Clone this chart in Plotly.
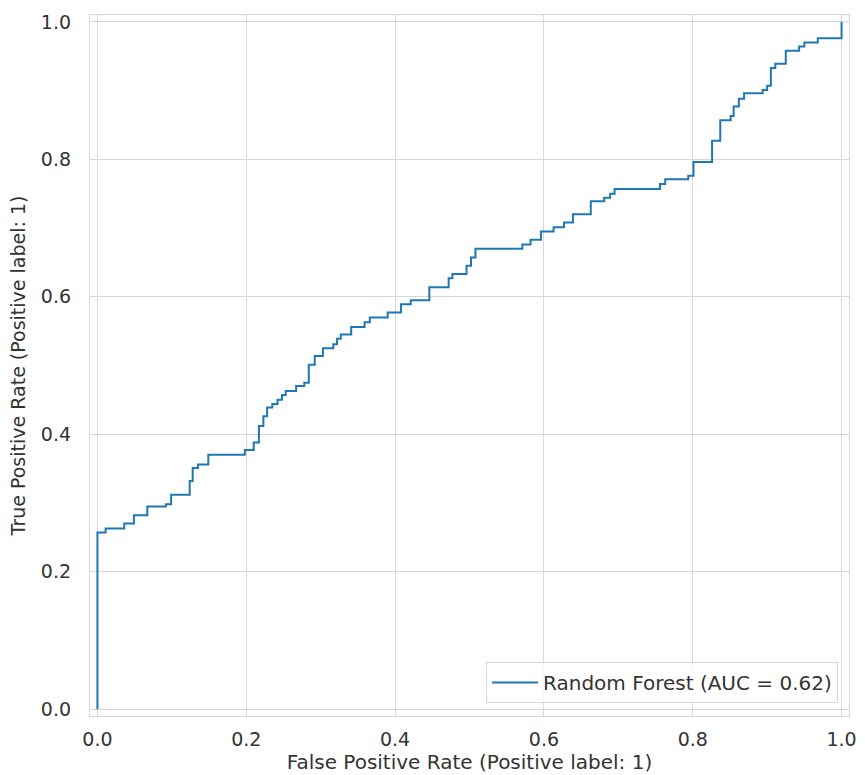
import plotly.graph_objects as go

# ROC curve corners: false positive rate and true positive rate after each step
fpr = [0.0, 0.0, 0.011, 0.036, 0.049, 0.067, 0.092, 0.099, 0.124, 0.128, 0.135,
       0.149, 0.198, 0.210, 0.217, 0.223, 0.228, 0.235, 0.242, 0.248, 0.253,
       0.267, 0.278, 0.284, 0.292, 0.303, 0.317, 0.322, 0.327, 0.341, 0.359,
       0.366, 0.390, 0.408, 0.421, 0.446, 0.472, 0.477, 0.496, 0.502, 0.508,
       0.571, 0.582, 0.596, 0.613, 0.627, 0.639, 0.663, 0.681, 0.689, 0.695,
       0.756, 0.763, 0.794, 0.801, 0.826, 0.837, 0.851, 0.855, 0.862, 0.869,
       0.894, 0.900, 0.905, 0.911, 0.925, 0.943, 0.950, 0.968, 1.0]
tpr = [0.0, 0.257, 0.263, 0.270, 0.282, 0.295, 0.298, 0.312, 0.332, 0.351, 0.356,
       0.370, 0.377, 0.388, 0.412, 0.426, 0.439, 0.444, 0.450, 0.457, 0.463,
       0.470, 0.475, 0.501, 0.514, 0.525, 0.531, 0.539, 0.545, 0.556, 0.563,
       0.570, 0.577, 0.589, 0.595, 0.614, 0.627, 0.633, 0.645, 0.657, 0.670,
       0.676, 0.683, 0.695, 0.701, 0.708, 0.720, 0.739, 0.744, 0.750, 0.757,
       0.764, 0.771, 0.776, 0.796, 0.827, 0.857, 0.863, 0.877, 0.888, 0.896,
       0.901, 0.907, 0.933, 0.939, 0.958, 0.964, 0.970, 0.976, 1.0]
auc = 0.62
model_name = "Random Forest"
tick_vals = [0.0, 0.2, 0.4, 0.6, 0.8, 1.0]

FONT = "DejaVu Sans"
GRID = "#d6d6d6"
TEXT = "#333333"

fig = go.Figure()
fig.add_trace(go.Scatter(
    x=fpr, y=tpr, mode="lines", line_shape="hv",
    line=dict(color="#1f77b4", width=2),
    name=f"{model_name} (AUC = {auc:.2f})",
))

axis_common = dict(
    range=[-0.01, 1.01], tickvals=tick_vals, tickformat=".1f",
    showgrid=True, gridcolor=GRID, gridwidth=1,
    showline=True, linecolor=GRID, linewidth=1.3, mirror=True,
    zeroline=False, ticks="", automargin=False,
    tickfont=dict(family=FONT, size=19, color=TEXT),
)

fig.update_layout(
    width=865, height=775,
    margin=dict(l=90, r=16, t=15, b=59),
    paper_bgcolor="white", plot_bgcolor="white",
    font=dict(family=FONT, color=TEXT),
    showlegend=True,
    legend=dict(
        x=0.9855, y=0.0185, xanchor="right", yanchor="bottom",
        bgcolor="rgba(255,255,255,0.8)", bordercolor="#d6d6d6", borderwidth=1,
        font=dict(family=FONT, size=20, color=TEXT),
        itemwidth=46,
    ),
    xaxis=dict(**axis_common, ticklabelstandoff=6,
               title=dict(text="False Positive Rate (Positive label: 1)",
                          font=dict(family=FONT, size=20, color=TEXT), standoff=4)),
    yaxis=dict(**axis_common, ticklabelstandoff=14,
               title=dict(text="True Positive Rate (Positive label: 1)",
                          font=dict(family=FONT, size=19, color=TEXT), standoff=10)),
)

fig.write_html("out.html")
